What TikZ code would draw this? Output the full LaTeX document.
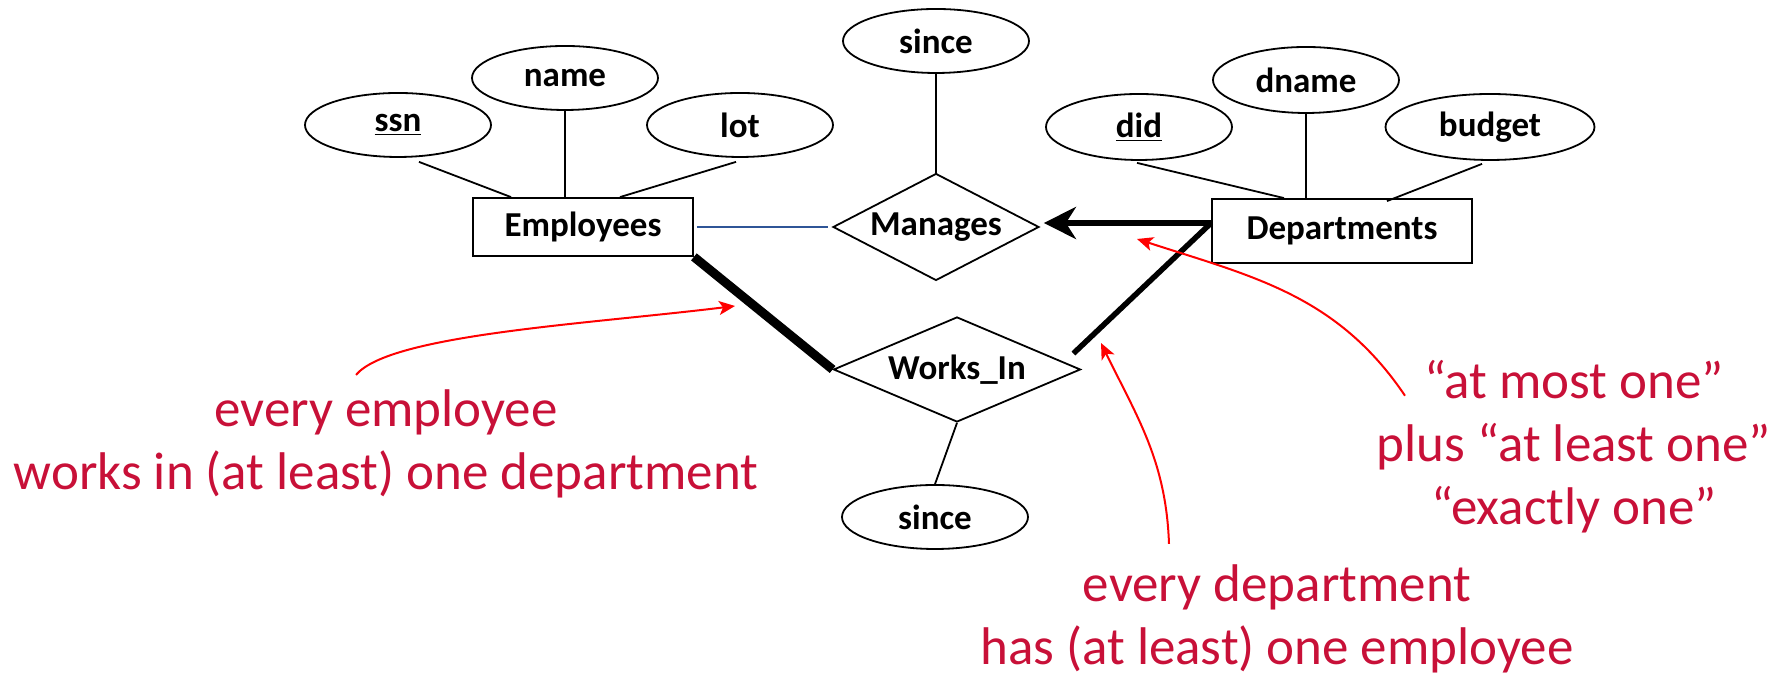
\documentclass[tikz,border=0pt]{standalone}
\usepackage{fontspec}
\setmainfont{Carlito}
\usepackage{tikz}
\usetikzlibrary{shapes,positioning,calc}
\usetikzlibrary{shapes.geometric, arrows}
\usetikzlibrary{arrows.meta}
\definecolor{notered}{RGB}{200,16,56}
\definecolor{lineblue}{RGB}{47,85,151}
\tikzstyle{entity} = [rectangle, minimum width=110pt, minimum height=29pt, text centered, draw=black, font=\fontsize{17.5}{21}\selectfont\bfseries]
\tikzstyle{relationship} = [diamond, aspect=2, inner sep=0pt, text centered, draw=black, font=\fontsize{17.5}{21}\selectfont\bfseries]
\tikzstyle{attribute} = [ellipse, minimum width=93pt, minimum height=32pt, inner sep=0pt, text centered, draw=black, font=\fontsize{17.5}{21}\selectfont\bfseries]
\tikzstyle{note} = [align=center, inner sep=0pt, text=notered, font=\fontsize{26.5}{31.5}\selectfont]
\tikzstyle{notearrow} = [draw=red, line width=1pt, -{Stealth[length=8pt,width=7pt,inset=2pt]}]
\tikzstyle{arrow} = [line width=3pt, -{Stealth[length=16pt,width=16pt,inset=5pt]}]
\begin{document}
\begin{tikzpicture}[x=0.5pt,y=0.5pt,line width=0.9pt]
							\useasboundingbox (0,0) rectangle (1779,678);
							\node (e1) at (583,451) [entity] {Employees};
							\node (e2) at (1342,447) [entity, minimum width=130pt, minimum height=32pt] {Departments};
							\node (r1) at (936,451) [relationship, minimum width=103pt, minimum height=53.5pt] {Manages};
							\node (r2) at (957,308.5) [relationship, minimum width=123.5pt, minimum height=52.5pt] {Works\_In};
							\node (a1) at (398,553) [attribute] {\underline{ssn}};
							\node (a2) at (565,600) [attribute] {name};
							\node (a3) at (740,553) [attribute] {lot};
							\node (a4) at (936,637) [attribute] {since};
							\node (a5) at (1139,551) [attribute, minimum height=33pt] {\underline{did}};
							\node (a6) at (1306,598) [attribute, minimum height=33pt] {dname};
							\node (a7) at (1490,551) [attribute, minimum width=104.5pt, minimum height=33pt] {budget};
							\node (a8) at (935,161) [attribute] {since};
							\draw ([xshift=10.5pt,yshift=-2pt]a1.south) -- ([xshift=-36pt]e1.north);
							\draw (a2.south) -- (a2.south |- e1.north);
							\draw ([xshift=-2pt,yshift=-2pt]a3.south) -- ([xshift=18.5pt]e1.north);
							\draw (a4.south) -- (r1.north);
							\draw ([xshift=-1pt,yshift=-1pt]a5.south) -- ([xshift=-29pt]e2.north);
							\draw (a6.south) -- (a6.south |- e2.north);
							\draw ([xshift=-4pt,yshift=-1.5pt]a7.south) -- ([xshift=22.5pt,yshift=-1.5pt]e2.north);
							\draw (r2.south) -- (a8.north);
							\draw [lineblue, line width=0.8pt, shorten <=1.5pt, shorten >=2pt] (e1.east) -- (r1.west);
							\draw [line width=4.5pt] (e1.south east) -- (r2.west);
							\coordinate (j) at ([yshift=4pt]e2.west);
							\draw [line width=2.75pt] ([xshift=-4pt,yshift=8pt]r2.east) -- (j);
							\draw [arrow, shorten >=2pt] (j) -- (j -| r1.east);
							\node (n1) at (386,234) [note] {every employee\\works in (at least) one department};
							\node (n2) at (1277,59) [note] {every department\\has (at least) one employee};
							\node (n3) at (1574,231) [note] {“at most one”\\plus “at least one”\\“exactly one”};
							\coordinate (t1) at (735,372);
							\coordinate (t2) at (1101,335);
							\coordinate (t3) at (1137,439);
							\draw [notearrow] ([xshift=-15pt,yshift=7pt]n1.north) to[out=50,in=187,out looseness=0.35] (t1);
							\draw [notearrow] ([xshift=-54pt,yshift=10pt]n2.north) to[out=92,in=-64] (t2);
							\draw [notearrow] ([xshift=-84.5pt,yshift=-18pt]n3.north) to[out=124,in=-18] (t3);
						\end{tikzpicture}
\end{document}
